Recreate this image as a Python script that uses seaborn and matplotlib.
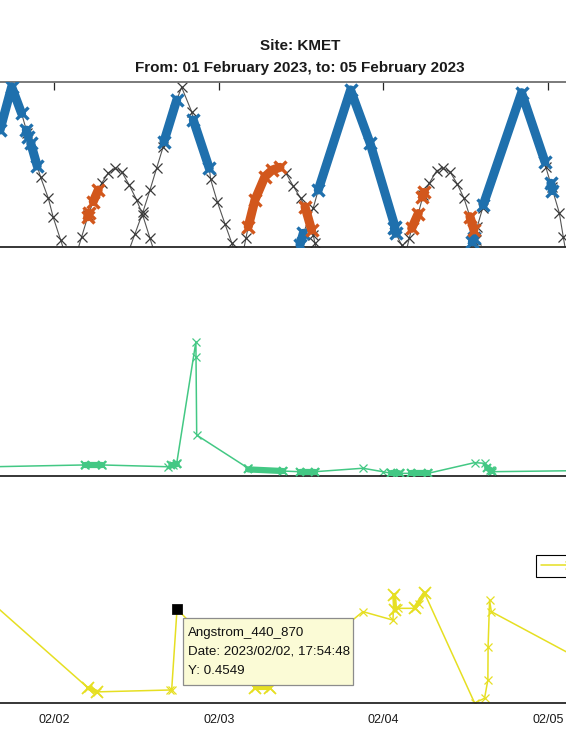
import numpy as np
import pandas as pd
import matplotlib
matplotlib.use('Agg')
import matplotlib.pyplot as plt
import matplotlib.dates as mdates
from matplotlib.patches import Rectangle
from matplotlib.lines import Line2D
import seaborn as sns

sns.set_theme(style='white')
plt.rcParams['font.family'] = ['Liberation Sans', 'DejaVu Sans']

# ---- top panel: high arcs (moon) and low arcs (sun), elevation-like values
moon1_t = ['02-01 16:05', '02-01 17:47', '02-01 19:14', '02-01 20:04', '02-01 20:34', '02-01 21:31',
           '02-01 22:01', '02-01 23:08', '02-01 23:51', '02-02 00:56', '02-02 01:35']
moon1_v = [63.5, 87.1, 72.6, 61.7, 56.3, 43.9, 37.7, 26.3, 15.9, 3.5, -4]

moon2_t = ['02-02 10:43', '02-02 11:46', '02-02 12:56', '02-02 13:58', '02-02 14:56', '02-02 15:54',
           '02-02 16:00', '02-02 17:52', '02-02 18:35', '02-02 20:03', '02-02 20:17', '02-02 22:37',
           '02-02 22:49', '02-02 23:47', '02-03 00:55', '02-03 01:53', '02-03 02:28']
moon2_v = [-4, 6.8, 18.8, 30.8, 42.7, 54.5, 57.2, 79.9, 86.9, 73.5, 69.0, 42.7, 36.6, 24.5, 12.2, 2.1, -4]

moon3_t = ['02-03 11:28', '02-03 11:51', '02-03 12:20', '02-03 13:47', '02-03 14:31', '02-03 19:14',
           '02-03 22:04', '02-04 01:43', '02-04 01:50', '02-04 02:41', '02-04 03:19']
moon3_v = [-4, 0.9, 7.2, 20.9, 30.8, 85.4, 56.5, 10.8, 7.2, 0.8, -4]

moon4_t = ['02-04 12:31', '02-04 13:08', '02-04 13:43', '02-04 14:30', '02-04 14:35', '02-04 20:11',
           '02-04 23:35', '02-04 23:44', '02-05 00:34', '02-05 01:41', '02-05 02:16', '02-05 02:41']
moon4_v = [-4, 3.6, 10.8, 20.9, 22.6, 83.9, 46.3, 43.2, 32.6, 18.4, 5.3, -4]

sun1_t = ['02-02 03:15', '02-02 04:00', '02-02 04:58', '02-02 05:41', '02-02 06:25', '02-02 06:55',
          '02-02 07:53', '02-02 08:52', '02-02 09:50', '02-02 10:56', '02-02 12:01', '02-02 12:54',
          '02-02 13:58', '02-02 14:41']
sun1_v = [-4, 5.3, 17.2, 24.5, 30.8, 34.5, 40.2, 42.7, 40.8, 33.6, 25.4, 17.2, 4.5, -4]

sun2_t = ['02-03 03:31', '02-03 03:58', '02-03 04:18', '02-03 05:17', '02-03 06:44', '02-03 07:48',
          '02-03 08:56', '02-03 09:48', '02-03 10:52', '02-03 11:57', '02-03 12:35', '02-03 13:33',
          '02-03 13:47', '02-03 14:02', '02-03 14:22']
sun2_v = [-4, 4.5, 10.8, 25.4, 38.1, 41.7, 43.2, 40.0, 33.0, 26.3, 21.7, 9.0, 6.3, 1.9, -4]

sun3_t = ['02-04 03:15', '02-04 03:48', '02-04 04:09', '02-04 05:07', '02-04 05:50', '02-04 06:43',
          '02-04 07:47', '02-04 08:40', '02-04 09:44', '02-04 10:48', '02-04 11:47', '02-04 12:39',
          '02-04 13:14', '02-04 13:32', '02-04 13:57']
sun3_v = [-4, 4.5, 9.9, 18.0, 28.1, 34.5, 41.3, 42.7, 40.8, 34.1, 26.3, 16.3, 9.0, 3.6, -4]

# dense (many overlapping points) stretches
blue_t = [['02-01 16:05', '02-01 17:47', '02-01 19:14'], ['02-01 19:55', '02-01 20:12'],
          ['02-01 20:34', '02-01 21:31'], ['02-02 16:00', '02-02 17:52'], ['02-02 20:17', '02-02 22:37'],
          ['02-03 11:51', '02-03 12:20'], ['02-03 14:31', '02-03 19:14', '02-03 22:04', '02-04 01:43'],
          ['02-04 01:38', '02-04 01:50'], ['02-04 13:00', '02-04 13:15'],
          ['02-04 14:35', '02-04 20:11', '02-04 23:35'], ['02-05 00:28', '02-05 00:40']]
blue_v = [[63.5, 87.1, 72.6], [63.5, 60.0], [56.3, 43.9], [57.2, 79.9], [69.0, 42.7], [0.9, 7.2],
          [30.8, 85.4, 56.5, 10.8], [10.0, 7.2], [2.5, 4.5], [22.6, 83.9, 46.3], [34.5, 30.5]]

orange_t = [['02-02 04:52', '02-02 05:04'], ['02-02 05:41', '02-02 06:25'],
            ['02-03 04:18', '02-03 05:17', '02-03 06:44', '02-03 07:48', '02-03 08:56'],
            ['02-03 12:35', '02-03 13:33'], ['02-04 04:09', '02-04 05:07'], ['02-04 05:43', '02-04 05:58'],
            ['02-04 12:39', '02-04 13:14']]
orange_v = [[16.2, 18.2], [24.5, 30.8], [10.8, 25.4, 38.1, 41.7, 43.2], [21.7, 9.0], [9.9, 18.0],
            [27.0, 29.5], [16.3, 9.0]]

# ---- middle panel
aod_t = ['02-01 15:00', '02-02 04:29', '02-02 06:55', '02-02 16:38', '02-02 17:22', '02-02 17:52',
         '02-02 20:40', '02-02 20:41', '02-02 20:47', '02-03 04:18', '02-03 09:23', '02-03 11:48',
         '02-03 14:00', '02-03 21:02', '02-03 23:58', '02-04 01:10', '02-04 02:23', '02-04 04:05',
         '02-04 06:31', '02-04 13:20', '02-04 14:47', '02-04 15:31', '02-04 15:50', '02-05 03:30']
aod_v = [0.056, 0.067, 0.067, 0.056, 0.067, 0.077, 0.814, 0.72, 0.248, 0.047, 0.03, 0.026, 0.026,
         0.047, 0.026, 0.016, 0.016, 0.016, 0.016, 0.081, 0.077, 0.036, 0.026, 0.032]

green_t = [['02-02 04:29', '02-02 06:55'], ['02-02 17:05', '02-02 17:52'], ['02-03 04:18', '02-03 09:23'],
           ['02-03 11:48', '02-03 14:00'], ['02-04 01:10', '02-04 02:23'], ['02-04 04:05', '02-04 06:31'],
           ['02-04 15:10', '02-04 15:50']]
green_v = [[0.067, 0.067], [0.065, 0.072], [0.040, 0.030], [0.026, 0.026], [0.018, 0.016],
           [0.018, 0.018], [0.05, 0.03]]

# ---- bottom panel: Angstrom_440_870
ang_t = ['02-01 15:00', '02-02 04:56', '02-02 06:14', '02-02 16:53', '02-02 17:08', '02-02 17:54:48',
         '02-03 05:17', '02-03 07:28', '02-03 21:02', '02-04 01:25', '02-04 01:35', '02-04 01:45',
         '02-04 02:09', '02-04 04:35', '02-04 05:12', '02-04 06:02', '02-04 13:20', '02-04 14:47',
         '02-04 15:16', '02-04 15:18', '02-04 15:31', '02-04 15:46', '02-05 03:30']
ang_v = [0.483, 0.073, 0.054, 0.063, 0.065, 0.4549, 0.073, 0.073, 0.443, 0.402, 0.524, 0.45, 0.459,
         0.459, 0.48, 0.532, 0.0, 0.023, 0.112, 0.273, 0.499, 0.443, 0.234]

yel_t = [['02-02 04:56', '02-02 06:14'], ['02-03 05:17', '02-03 07:28'], ['02-04 01:35', '02-04 01:45'],
         ['02-04 04:35', '02-04 06:02']]
yel_v = [[0.073, 0.054], [0.073, 0.073], [0.524, 0.45], [0.459, 0.532]]

tip_time = '02-02 17:54:48'
tip_value = 0.4549
x_range = ['02-01 16:05', '02-05 02:40']

BLUE = '#1f70ad'
ORANGE = '#d2571c'
GREEN = '#43c884'
YELLOW = '#e6df22'
DARK = '#3a3a3a'


def ToTime(lst):
    return pd.to_datetime(['2023-' + s for s in lst], format='mixed')


def Draw(ax, t, v, color, **kw):
    df = pd.DataFrame({'time': ToTime(t), 'val': v})
    kw.setdefault('mec', color)
    sns.lineplot(data=df, x='time', y='val', ax=ax, sort=False, estimator=None,
                 color=color, marker='x', **kw)


W, H = 566, 729
fig = plt.figure(figsize=(W / 100, H / 100), dpi=100)
ax_h = 165 / H
ax1 = fig.add_axes([0, 1 - 246.5 / H, 1, ax_h])
ax2 = fig.add_axes([0, 1 - 476 / H, 1, ax_h])
ax3 = fig.add_axes([0, 1 - 703 / H, 1, ax_h])

# top
for t, v in [(moon1_t, moon1_v), (moon2_t, moon2_v), (moon3_t, moon3_v), (moon4_t, moon4_v),
             (sun1_t, sun1_v), (sun2_t, sun2_v), (sun3_t, sun3_v)]:
    Draw(ax1, t, v, '#555555', lw=0.8, ms=6.5, mew=0.9, mec=DARK, zorder=2)
for t, v in zip(blue_t, blue_v):
    Draw(ax1, t, v, BLUE, lw=6.5, ms=8, mew=2.4, zorder=3)
for t, v in zip(orange_t, orange_v):
    Draw(ax1, t, v, ORANGE, lw=6.5, ms=8, mew=2.4, zorder=3)
ax1.set_ylim(0, 90)

# middle
Draw(ax2, aod_t, aod_v, GREEN, lw=1.1, ms=6, mew=0.9, zorder=2)
for t, v in zip(green_t, green_v):
    Draw(ax2, t, v, GREEN, lw=4.5, ms=6, mew=1.5, zorder=3)
ax2.set_ylim(0, 1)

# bottom
Draw(ax3, ang_t, ang_v, YELLOW, lw=1.1, ms=6, mew=0.9, zorder=2)
for t, v in zip(yel_t, yel_v):
    Draw(ax3, t, v, YELLOW, lw=3.0, ms=9, mew=1.3, zorder=3)
sns.scatterplot(x=ToTime([tip_time]), y=[tip_value], ax=ax3, marker='s', s=45, color='black',
                edgecolor='black', zorder=5)
ax3.set_ylim(0, 0.8)

xl = ToTime(x_range)
for ax in (ax1, ax2, ax3):
    ax.set_xlim(xl[0], xl[1])
    ax.set_xlabel('')
    ax.set_ylabel('')
    ax.set_yticks([])
    ax.xaxis.set_major_locator(mdates.DayLocator())
    ax.xaxis.set_major_formatter(mdates.DateFormatter('%m/%d'))
    ax.tick_params(axis='x', direction='in', length=6, width=0.9, color='#262626',
                   labelsize=9, pad=8, labelcolor='#1a1a1a')
    for side in ('left', 'right', 'top'):
        ax.spines[side].set_visible(False)
    ax.spines['bottom'].set_color('#262626')
    ax.spines['bottom'].set_linewidth(1.3)
    ax.set_facecolor('none')
    if ax is not ax3:
        ax.tick_params(axis='x', labelbottom=False)

ax1.spines['top'].set_visible(True)
ax1.spines['top'].set_color('#707070')
ax1.spines['top'].set_linewidth(1.3)
ax1.tick_params(axis='x', top=True)

fig.text(300 / W, 1 - 46 / H, 'Site: KMET', ha='center', va='center', fontsize=11, fontweight='bold',
         color='#1a1a1a')
fig.text(300 / W, 1 - 68 / H, 'From: 01 February 2023, to: 05 February 2023', ha='center', va='center',
         fontsize=11, fontweight='bold', color='#1a1a1a')

# data tip box
fig.add_artist(Rectangle((183.3 / W, 1 - 685 / H), 170 / W, 66.7 / H, transform=fig.transFigure,
                         facecolor='#fbfbd6', edgecolor='#8c8c8c', lw=0.9, zorder=10))
tip_lines = ['Angstrom_440_870', 'Date: 2023/02/02, 17:54:48', 'Y: 0.4549']
for i, s in enumerate(tip_lines):
    fig.text(188 / W, 1 - (633 + 19 * i) / H, s, ha='left', va='center', fontsize=9.6,
             color='#111111', zorder=11)

# legend: only its left part falls inside the picture
handle = Line2D([], [], color=YELLOW, lw=1.1, marker='x', ms=6, mew=0.9)
leg = fig.legend([handle], [' '], loc='upper left',
                 bbox_to_anchor=(536.3 / W, 1 - 555 / H), frameon=True, fancybox=False,
                 edgecolor='black', framealpha=1, fontsize=9, borderaxespad=0, handlelength=4.5)
leg.get_frame().set_linewidth(0.8)

fig.savefig('out.png', dpi=100)
